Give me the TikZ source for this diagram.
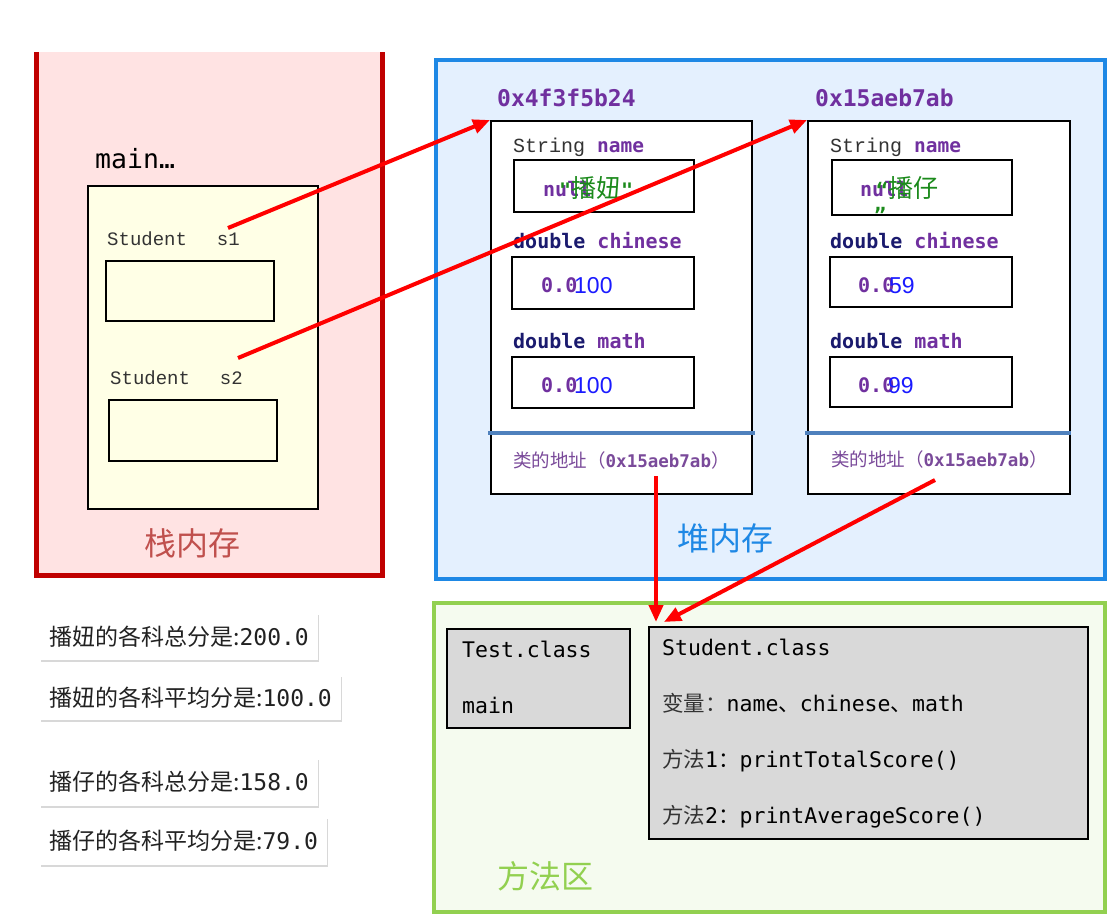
\documentclass[tikz,border=0pt]{standalone}
\usepackage{fontspec}
\setmainfont{Liberation Serif}
\newfontfamily\cjk{Noto Sans CJK SC}
\newfontfamily\mono{DejaVu Sans Mono}
\newfontfamily\smono{Liberation Mono}
\newfontfamily\numf{Liberation Sans}
\usetikzlibrary{arrows.meta,shadows,calc}
\newcommand\fsz[1]{\fontsize{#1}{#1}\selectfont}
\definecolor{stackred}{HTML}{C00000}
\definecolor{pinkfill}{HTML}{FFE3E3}
\definecolor{stacktext}{HTML}{C0504D}
\definecolor{yellowfill}{HTML}{FFFFE6}
\definecolor{heapblue}{HTML}{1E88E5}
\definecolor{heapfill}{HTML}{E4F0FE}
\definecolor{greenframe}{HTML}{92D050}
\definecolor{greenfill}{HTML}{F5FBEF}
\definecolor{classgray}{HTML}{D9D9D9}
\definecolor{purp}{HTML}{70309F}
\definecolor{addrpurp}{HTML}{7A4A9A}
\definecolor{navy}{HTML}{1A1A6E}
\definecolor{valblue}{HTML}{1A1AFF}
\definecolor{strgreen}{HTML}{1B8A1B}
\definecolor{sepblue}{HTML}{4F81BD}
\definecolor{arrowred}{HTML}{FF0000}
\definecolor{textgray}{HTML}{333333}
\definecolor{outtext}{HTML}{222222}
\begin{document}
\begin{tikzpicture}[x=1pt,y=-1pt,
  area/.style={inner sep=0pt, anchor=north west},
  box/.style={draw=black, line width=2pt, inner sep=0pt, anchor=north west},
  txt/.style={inner sep=0pt, anchor=base west},
  ptr/.style={draw=arrowred, line width=4pt, -{Triangle[length=17pt,width=14pt]}},
  outbox/.style={fill=white, inner xsep=9pt, inner ysep=0pt, minimum height=47pt, anchor=north west,
     font=\fsz{23}, text=outtext, drop shadow={opacity=0.3, shadow xshift=1pt, shadow yshift=-2pt}},
  cls/.style={box, fill=classgray},
  clstxt/.style={txt, font=\mono\fsz{21.5}, text=black},
  sep/.style={draw=sepblue, line width=4pt},
  title/.style={txt, font=\mono\bfseries\fsz{23}, text=purp},
  typ/.style={txt, font=\mono\bfseries\fsz{20}},
  nul/.style={txt, font=\mono\bfseries\fsz{20}, text=purp},
  val/.style={txt, font=\numf\fsz{23}, text=valblue},
  big/.style={inner sep=0pt, font=\cjk\fsz{32}}
]
\useasboundingbox (0,0) rectangle (1117,916);
\fill[white] (0,0) rectangle (1117,916);

% ---------- stack ----------
\node[area, fill=pinkfill, minimum width=346pt, minimum height=523pt] (stack) at (36,52) {};
\draw[stackred, line width=5pt] (stack.north west) -- (stack.south west) -- (stack.south east) -- (stack.north east);
\node[txt, font=\mono\fsz{26.5}] (mainlbl) at (95,168) {main…};
\node[box, fill=yellowfill, minimum width=230pt, minimum height=323pt] (frame) at (87,185) {};
\node[txt, font=\smono\fsz{19}, text=textgray] (s1lbl) at (107,245) {Student\hspace{30pt}s1};
\node[box, minimum width=168pt, minimum height=60pt] (s1box) at (105,260) {};
\node[txt, font=\smono\fsz{19}, text=textgray] (s2lbl) at (110,384) {Student\hspace{30pt}s2};
\node[box, minimum width=168pt, minimum height=61pt] (s2box) at (108,399) {};
\node[big, text=stacktext] (stacklbl) at (192,543) {栈内存};

% ---------- heap ----------
\node[area, draw=heapblue, line width=4pt, fill=heapfill, minimum width=669pt, minimum height=519pt] (heap) at (434,58) {};
\node[big, text=heapblue] (heaplbl) at (725,538) {堆内存};

% object 1
\node[title] (t1) at (497,106) {0x4f3f5b24};
\node[box, fill=white, minimum width=261pt, minimum height=373pt] (obj1) at (490,120) {};
\node[txt] (n1lbl) at (513,152) {{\smono\fsz{20}\color{textgray}String }{\mono\bfseries\fsz{19.5}\color{purp}name}};
\node[box, minimum width=180pt, minimum height=52pt] (n1box) at (513,159) {};
\node[nul] (n1null) at (543,196) {null};
\node[txt, text=strgreen] (n1val) at (559,197) {{\mono\bfseries\fsz{20}"}{\cjk\fsz{25}播妞}{\mono\bfseries\fsz{20}"}};
\node[typ] (c1lbl) at (513,248) {{\color{navy}double} {\color{purp}chinese}};
\node[box, minimum width=182pt, minimum height=52pt] (c1box) at (511,256) {};
\node[nul] (c1null) at (541,292) {0.0};
\node[val] (c1val) at (574,293) {100};
\node[typ] (m1lbl) at (513,348) {{\color{navy}double} {\color{purp}math}};
\node[box, minimum width=182pt, minimum height=51pt] (m1box) at (511,356) {};
\node[nul] (m1null) at (541,392) {0.0};
\node[val] (m1val) at (574,393) {100};
\draw[sep] ($(obj1.north west)+(-2,313)$) -- ($(obj1.north east)+(2,313)$);
\node[txt, text=addrpurp] (a1) at (513,467) {{\cjk\fsz{18.5}类的地址（}{\mono\bfseries\fsz{17.5}0x15aeb7ab}{\cjk\fsz{18.5}）}};

% object 2
\node[title] (t2) at (815,106) {0x15aeb7ab};
\node[box, fill=white, minimum width=262pt, minimum height=373pt] (obj2) at (807,120) {};
\node[txt] (n2lbl) at (830,152) {{\smono\fsz{20}\color{textgray}String }{\mono\bfseries\fsz{19.5}\color{purp}name}};
\node[box, minimum width=180pt, minimum height=55pt] (n2box) at (831,159) {};
\node[nul] (n2null) at (860,196) {null};
\node[txt, text=strgreen] (n2val) at (876,197) {{\mono\bfseries\fsz{20}“}{\cjk\fsz{25}播仔}};
\node[txt, text=strgreen, font=\mono\bfseries\fsz{20}] (n2q) at (874,222) {”};
\node[typ] (c2lbl) at (830,248) {{\color{navy}double} {\color{purp}chinese}};
\node[box, minimum width=182pt, minimum height=50pt] (c2box) at (829,256) {};
\node[nul] (c2null) at (858,292) {0.0};
\node[val] (c2val) at (889,293) {59};
\node[typ] (m2lbl) at (830,348) {{\color{navy}double} {\color{purp}math}};
\node[box, minimum width=182pt, minimum height=50pt] (m2box) at (829,356) {};
\node[nul] (m2null) at (858,392) {0.0};
\node[val] (m2val) at (888,393) {99};
\draw[sep] ($(obj2.north west)+(-2,313)$) -- ($(obj2.north east)+(0,313)$);
\node[txt, text=addrpurp] (a2) at (831,466) {{\cjk\fsz{18.5}类的地址（}{\mono\bfseries\fsz{17.5}0x15aeb7ab}{\cjk\fsz{18.5}）}};

% ---------- method area ----------
\node[area, draw=greenframe, line width=4pt, fill=greenfill, minimum width=671pt, minimum height=309pt] (method) at (432,601) {};
\node[big, text=greenframe] (methlbl) at (545,876) {方法区};
\node[cls, minimum width=183pt, minimum height=99pt] (tclass) at (446,628) {};
\node[clstxt] (tc1) at (462,657) {Test.class};
\node[clstxt] (tc2) at (462,713) {main};
\node[cls, minimum width=439pt, minimum height=212pt] (sclass) at (648,626) {};
\node[clstxt] (sc1) at (662,655) {Student.class};
\node[clstxt] (sc2) at (662,711) {{\cjk\fsz{21.5}\color{textgray}变量：}name{\cjk\fsz{21.5}、}chinese{\cjk\fsz{21.5}、}math};
\node[clstxt] (sc3) at (662,767) {{\cjk\fsz{21.5}\color{textgray}方法}1{\cjk\fsz{21.5}：}printTotalScore()};
\node[clstxt] (sc4) at (662,823) {{\cjk\fsz{21.5}\color{textgray}方法}2{\cjk\fsz{21.5}：}printAverageScore()};

% ---------- output ----------
\node[outbox] (o1) at (40,613) {{\cjk 播妞的各科总分是:}{\mono 200.0}};
\node[outbox, minimum height=45pt] (o2) at (40,675) {{\cjk 播妞的各科平均分是:}{\mono 100.0}};
\node[outbox, minimum height=48pt] (o3) at (40,758) {{\cjk 播仔的各科总分是:}{\mono 158.0}};
\node[outbox, minimum height=48pt] (o4) at (40,817) {{\cjk 播仔的各科平均分是:}{\mono 79.0}};

% ---------- pointers ----------
\coordinate (p1) at (228,228);
\coordinate (p2) at (238,358);
\coordinate (p3) at (656,476);
\coordinate (p4) at (935,480);
\draw[ptr] (p1) -- (obj1.north west);
\draw[ptr] (p2) -- (obj2.north west);
\draw[ptr] (p3) -- ($(sclass.north west)+(8,-4)$);
\draw[ptr] (p4) -- ($(sclass.north west)+(16,-4)$);
\end{tikzpicture}
\end{document}
